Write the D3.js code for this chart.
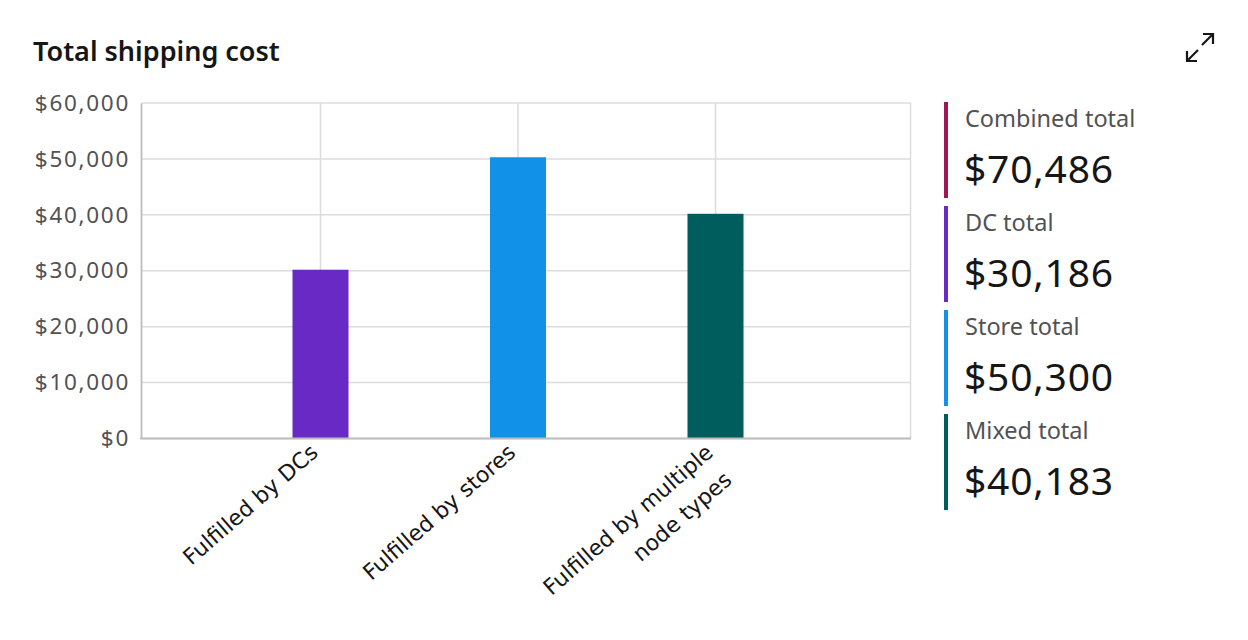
<!DOCTYPE html>
<html>
<head>
<meta charset="utf-8">
<script src="https://cdn.jsdelivr.net/npm/d3@7"></script>
<style>
  body { margin: 0; background: #fff; }
  svg { font-family: "Noto Sans", sans-serif; }
</style>
</head>
<body>
<div id="content"></div>
<script>
// data
const categories = ["Fulfilled by DCs", "Fulfilled by stores", "Fulfilled by multiple node types"];
const labelLines = [["Fulfilled by DCs"], ["Fulfilled by stores"], ["Fulfilled by multiple", "node types"]];
const costs = [30186, 50300, 40183];
const barColors = ["#6929c4", "#1192e8", "#005d5d"];
const yTicks = [0, 10000, 20000, 30000, 40000, 50000, 60000];
const legendNames = ["Combined total", "DC total", "Store total", "Mixed total"];
const legendValues = [70486, 30186, 50300, 40183];
const legendColors = ["#9f1853", "#6929c4", "#1192e8", "#005d5d"];

const w = 1248, h = 640;
const plotL = 141, plotR = 910.5, plotT = 103, plotB = 438.5;

const svg = d3.select("#content").append("svg").attr("width", w).attr("height", h);

svg.append("text").attr("x", 33).attr("y", 61)
  .attr("font-size", 27).attr("font-weight", 600).attr("fill", "#161616")
  .text("Total shipping cost");

// expand icon
const icon = svg.append("g").attr("stroke", "#161616").attr("stroke-width", 2.2).attr("fill", "none");
icon.append("path").attr("d", "M1187,51 L1187,61 L1197,61 M1187,61 L1198,50");
icon.append("path").attr("d", "M1203,34 L1213,34 L1213,44 M1213,34 L1202,45");

let yScale = d3.scaleLinear().domain([0, 60000]).range([plotB, plotT]);
let xScale = d3.scalePoint().domain(categories).range([plotL + 179.5, plotR - 195]);

// grid
svg.append("g").selectAll("line").data(yTicks).enter().append("line")
  .attr("x1", plotL).attr("x2", plotR)
  .attr("y1", d => yScale(d)).attr("y2", d => yScale(d))
  .attr("stroke", "#dcdcdc").attr("stroke-width", 1.5);
svg.append("g").selectAll("line").data(categories).enter().append("line")
  .attr("x1", d => xScale(d)).attr("x2", d => xScale(d))
  .attr("y1", plotT).attr("y2", plotB)
  .attr("stroke", "#dcdcdc").attr("stroke-width", 1.5);
svg.append("line").attr("x1", plotR).attr("x2", plotR).attr("y1", plotT).attr("y2", plotB)
  .attr("stroke", "#dcdcdc").attr("stroke-width", 1.5);

// bars
svg.selectAll("rect.bar").data(costs).enter().append("rect").attr("class", "bar")
  .attr("x", (d, i) => xScale(categories[i]) - 28)
  .attr("width", 56)
  .attr("y", d => yScale(d))
  .attr("height", d => plotB - yScale(d))
  .attr("fill", (d, i) => barColors[i]);

// axes
let yAxis = d3.axisLeft(yScale).tickValues(yTicks).tickSize(0).tickPadding(11)
  .tickFormat(d => "$" + d3.format(",")(d));
let yg = svg.append("g").attr("transform", `translate(${plotL},0)`).call(yAxis);
yg.select(".domain").attr("stroke", "#bdbdbd").attr("stroke-width", 1.8);
yg.selectAll("text").attr("font-size", 22.5).attr("letter-spacing", 1.7)
  .attr("fill", "#525252").attr("font-family", "Noto Sans");

svg.append("line").attr("x1", plotL - 0.9).attr("x2", plotR + 0.5).attr("y1", plotB).attr("y2", plotB)
  .attr("stroke", "#bdbdbd").attr("stroke-width", 1.8);

// x labels
let xl = svg.append("g").selectAll("text").data(categories).enter().append("text")
  .attr("transform", d => `translate(${xScale(d) - 1},${plotB + 16}) rotate(-41)`)
  .attr("text-anchor", "end").attr("font-size", 22).attr("fill", "#161616")
  .attr("font-family", "DejaVu Sans");
xl.selectAll("tspan").data((d, i) => labelLines[i]).enter().append("tspan")
  .attr("x", (d, j) => j == 0 ? 0 : -4).attr("dy", (d, j) => j == 0 ? 0 : "1.5em").text(d => d);

// legend
let lg = svg.append("g").selectAll("g").data(legendNames).enter().append("g")
  .attr("transform", (d, i) => `translate(944,${102 + i * 104})`);
lg.append("rect").attr("width", 4).attr("height", 96).attr("fill", (d, i) => legendColors[i]);
lg.append("text").attr("x", 21).attr("y", 25).attr("font-size", 23.5).attr("fill", "#525252")
  .text(d => d);
lg.append("text").attr("x", 20).attr("y", 80.5).attr("font-size", 39).attr("letter-spacing", 0.8)
  .attr("fill", "#161616")
  .text((d, i) => "$" + d3.format(",")(legendValues[i]));
</script>
</body>
</html>
